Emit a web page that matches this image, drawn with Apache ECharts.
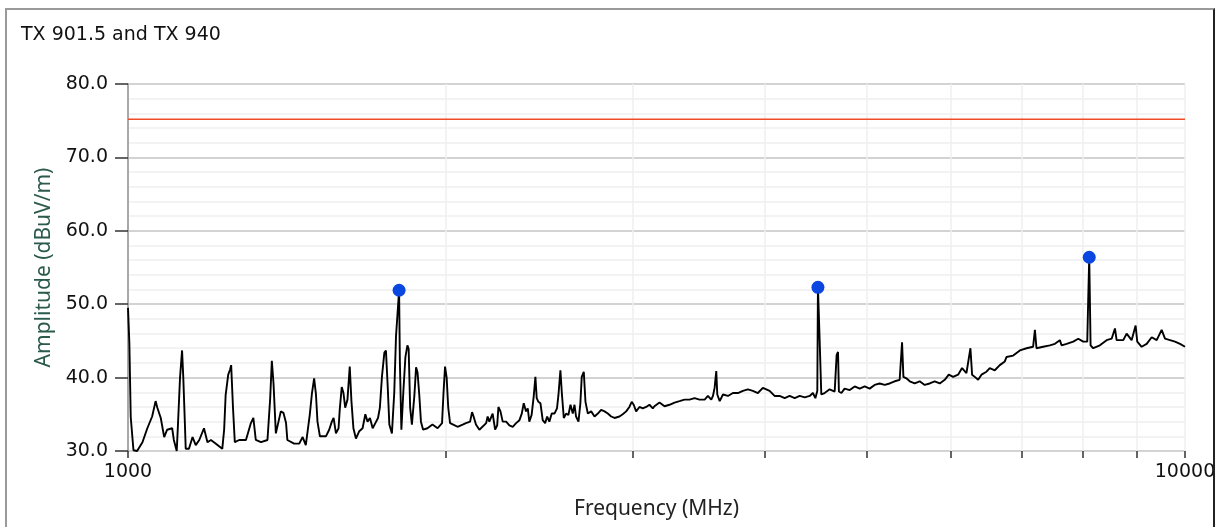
<!DOCTYPE html>
<html>
<head>
<meta charset="utf-8">
<title>TX 901.5 and TX 940</title>
<script src="https://cdn.jsdelivr.net/npm/echarts@6.0.0/dist/echarts.min.js"></script>
<style>
  html, body { margin: 0; padding: 0; background: #fff; overflow: hidden; }
  #chart { position: absolute; left: 0; top: 0; width: 1225px; height: 527px; }
  .frame {
    position: absolute; left: 5px; top: 8px; width: 1206px; height: 540px;
    border: 2px solid #9a9a9a; border-right-color: #222; pointer-events: none;
  }
</style>
</head>
<body>
<div id="chart"></div>
<div class="frame"></div>
<script>
const freqMHz = [
  1000, 1003, 1006, 1012, 1020, 1032, 1043, 1054, 1062, 1066, 1074, 1082, 1089, 1101, 1105, 1112,
  1115, 1120, 1125, 1128, 1132, 1134, 1142, 1151, 1159, 1168, 1180, 1189, 1198, 1211, 1228, 1233,
  1237, 1244, 1249, 1252, 1257, 1262, 1274, 1293, 1307, 1314, 1321, 1336, 1355, 1363, 1368, 1373,
  1380, 1387, 1395, 1403, 1411, 1415, 1436, 1452, 1463, 1473, 1478, 1486, 1493, 1500, 1506, 1511,
  1519, 1539, 1550, 1559, 1565, 1573, 1582, 1586, 1593, 1599, 1605, 1613, 1621, 1627, 1634, 1643,
  1655, 1667, 1677, 1685, 1694, 1704, 1714, 1724, 1731, 1739, 1748, 1754, 1761, 1767, 1777, 1786,
  1793, 1799, 1805, 1808, 1814, 1822, 1830, 1838, 1843, 1849, 1856, 1866, 1873, 1879, 1886, 1893,
  1902, 1920, 1941, 1963, 1982, 1988, 1995, 2002, 2009, 2017, 2031, 2050, 2073, 2088, 2107, 2116,
  2123, 2134, 2150, 2158, 2182, 2189, 2197, 2213, 2225, 2235, 2241, 2251, 2262, 2279, 2295, 2312,
  2329, 2346, 2358, 2368, 2380, 2389, 2397, 2409, 2420, 2429, 2436, 2445, 2456, 2468, 2481, 2492,
  2504, 2517, 2532, 2546, 2554, 2565, 2573, 2584, 2597, 2610, 2622, 2635, 2645, 2654, 2668, 2679,
  2687, 2699, 2709, 2723, 2743, 2763, 2783, 2803, 2824, 2844, 2865, 2886, 2917, 2938, 2960, 2981,
  2996, 3009, 3025, 3047, 3069, 3092, 3114, 3137, 3148, 3183, 3218, 3253, 3289, 3325, 3361, 3398,
  3436, 3473, 3512, 3537, 3563, 3576, 3589, 3602, 3610, 3629, 3655, 3695, 3735, 3776, 3817, 3859,
  3901, 3944, 3987, 4017, 4046, 4090, 4135, 4181, 4226, 4273, 4320, 4368, 4415, 4446, 4470, 4489,
  4495, 4512, 4528, 4561, 4611, 4662, 4682, 4696, 4705, 4731, 4764, 4817, 4870, 4923, 4977, 5031,
  5086, 5142, 5199, 5255, 5313, 5371, 5399, 5415, 5450, 5490, 5550, 5610, 5672, 5734, 5797, 5861,
  5925, 5977, 6034, 6100, 6153, 6212, 6266, 6289, 6326, 6372, 6419, 6489, 6536, 6608, 6680, 6753,
  6778, 6878, 6979, 7081, 7183, 7211, 7236, 7342, 7450, 7532, 7614, 7642, 7727, 7839, 7925, 8012,
  8082, 8098, 8117, 8141, 8188, 8308, 8430, 8523, 8585, 8616, 8742, 8806, 8902, 8980, 9012, 9099,
  9199, 9300, 9402, 9504, 9574, 9678, 9784, 9892, 10000
];
const amplitude = [
  49.5, 44.6, 34.6, 30.1, 30.0, 31.2, 33.1, 34.7, 36.8, 35.9, 34.5, 31.9, 32.9, 33.1, 31.5, 30.0,
  33.6, 40.0, 43.7, 40.0, 33.6, 30.3, 30.3, 31.9, 30.8, 31.5, 33.1, 31.2, 31.5, 31.0, 30.3, 32.9,
  37.6, 40.4, 41.1, 41.7, 35.9, 31.2, 31.5, 31.5, 33.8, 34.5, 31.5, 31.2, 31.5, 37.1, 42.3, 39.2,
  32.4, 33.8, 35.4, 35.2, 33.8, 31.5, 31.0, 31.0, 31.9, 30.8, 32.4, 35.0, 37.9, 39.9, 37.7, 34.0,
  32.0, 32.0, 32.9, 34.0, 34.5, 32.4, 33.1, 35.6, 38.7, 37.9, 35.9, 37.0, 41.5, 36.8, 33.1, 31.7,
  32.7, 33.1, 35.0, 34.0, 34.5, 33.1, 33.8, 34.5, 35.9, 40.2, 43.4, 43.7, 38.6, 33.6, 32.4, 37.9,
  45.7, 45.7, 51.9, 42.3, 32.9, 38.2, 42.8, 44.4, 43.9, 35.9, 33.6, 37.5, 41.4, 40.7, 37.7, 34.0,
  32.9, 33.1, 33.6, 33.1, 33.8, 37.7, 41.5, 40.0, 35.9, 33.8, 33.6, 33.3, 33.6, 33.8, 34.0, 35.3,
  34.7, 33.6, 32.9, 32.9, 33.8, 34.7, 34.0, 35.1, 32.9, 33.5, 36.0, 35.4, 34.0, 34.0, 33.5, 33.3,
  33.8, 34.2, 35.1, 36.5, 35.4, 35.8, 34.0, 34.9, 37.4, 40.1, 37.2, 36.7, 36.5, 34.2, 33.8, 34.7,
  34.0, 35.1, 35.1, 35.8, 37.6, 41.0, 37.9, 34.5, 35.1, 34.9, 36.3, 35.1, 36.3, 34.7, 34.0, 36.5,
  40.1, 40.8, 36.7, 35.1, 35.4, 34.7, 35.1, 35.6, 35.4, 35.1, 34.7, 34.5, 34.7, 35.0, 35.4, 36.0,
  36.7, 36.3, 35.4, 36.0, 35.8, 36.0, 36.3, 35.8, 36.1, 36.6, 36.1, 36.3, 36.6, 36.8, 37.0, 37.0,
  37.2, 37.0, 37.0, 37.5, 37.0, 37.5, 38.6, 40.9, 37.7, 36.8, 37.7, 37.5, 37.9, 37.9, 38.2, 38.4,
  38.2, 37.9, 38.6, 38.4, 38.2, 37.5, 37.5, 37.2, 37.5, 37.2, 37.5, 37.3, 37.5, 37.9, 37.2, 38.2,
  52.3, 45.0, 37.7, 37.9, 38.4, 38.1, 43.1, 43.5, 38.1, 37.9, 38.5, 38.3, 38.8, 38.5, 38.8, 38.5,
  39.0, 39.2, 39.0, 39.2, 39.5, 39.7, 44.8, 40.1, 39.9, 39.5, 39.2, 39.5, 39.0, 39.2, 39.5, 39.2,
  39.7, 40.4, 40.1, 40.4, 41.3, 40.6, 44.0, 40.4, 40.1, 39.7, 40.4, 40.8, 41.3, 41.0, 41.7, 42.2,
  42.8, 43.0, 43.7, 44.0, 44.2, 46.5, 44.0, 44.2, 44.4, 44.6, 45.1, 44.4, 44.6, 44.9, 45.3, 44.9,
  44.9, 50.3, 56.4, 44.4, 44.0, 44.4, 45.1, 45.3, 46.7, 45.1, 45.1, 46.0, 45.1, 47.1, 44.9, 44.2,
  44.6, 45.5, 45.1, 46.5, 45.3, 45.1, 44.9, 44.6, 44.2
];

// peak markers
const peakFreq = [1805, 4495, 8117];
const peakAmp = [51.9, 52.3, 56.4];

// limit line
const limitFreq = [1000, 10000];
const limitAmp = [75.2, 75.2];

// axis ticks
const xLabelValues = [1000, 10000];
const xTickValues = [1000, 2000, 3000, 4000, 5000, 6000, 7000, 8000, 9000, 10000];

const chart = echarts.init(document.getElementById("chart"));

const traceData = freqMHz.map((f, i) => [f, amplitude[i]]);
const peakData = peakFreq.map((f, i) => [f, peakAmp[i]]);
const limitData = limitFreq.map((f, i) => [f, limitAmp[i]]);

const option = {
  animation: false,
  backgroundColor: "#ffffff",
  title: {
    text: "TX 901.5 and TX 940",
    left: 16,
    top: 21,
    textStyle: {
      fontFamily: "DejaVu Sans",
      fontSize: 19,
      fontWeight: "normal",
      color: "#111",
    },
  },
  grid: {
    left: 128,
    right: 40,
    top: 84,
    bottom: 76,
  },
  xAxis: {
    type: "log",
    logBase: 10,
    min: 1000,
    max: 10000,
    name: "Frequency (MHz)",
    nameLocation: "middle",
    nameGap: 48,
    nameTextStyle: {
      fontFamily: "Noto Sans",
      fontSize: 21,
      color: "#222",
    },
    axisLine: { show: false },
    axisTick: {
      show: true,
      customValues: xTickValues,
      length: 7,
      lineStyle: { color: "#333", width: 1.5 },
    },
    axisLabel: {
      customValues: xLabelValues,
      formatter: (v) => String(Math.round(v)),
      margin: 12,
      fontFamily: "DejaVu Sans",
      fontSize: 19,
      color: "#111",
    },
    splitLine: {
      show: true,
      lineStyle: { color: "#efefef", width: 1.5 },
    },
  },
  yAxis: {
    type: "value",
    min: 30,
    max: 80,
    interval: 10,
    name: "Amplitude (dBuV/m)",
    nameLocation: "middle",
    nameRotate: 90,
    nameGap: 69,
    nameTextStyle: {
      fontFamily: "Noto Sans",
      fontSize: 21,
      color: "#2b5a4c",
    },
    axisLine: {
      show: true,
      lineStyle: { color: "#a8a8a8", width: 2 },
    },
    axisTick: {
      show: true,
      length: 13,
      lineStyle: { color: "#333", width: 1.5 },
    },
    axisLabel: {
      formatter: (v) => v.toFixed(1),
      margin: 20,
      fontFamily: "DejaVu Sans",
      fontSize: 19,
      color: "#111",
    },
    splitLine: {
      lineStyle: { color: "#c4c4c4", width: 1.5 },
    },
    minorTick: { show: false, splitNumber: 5 },
    minorSplitLine: {
      show: true,
      lineStyle: { color: "#f0f0f0", width: 1.5 },
    },
  },
  series: [
    {
      name: "Limit",
      type: "line",
      data: limitData,
      symbol: "none",
      lineStyle: { color: "#f04a28", width: 1.6 },
      z: 2,
    },
    {
      name: "TX 901.5 and TX 940",
      type: "line",
      data: traceData,
      symbol: "none",
      lineStyle: { color: "#000", width: 1.9 },
      z: 3,
    },
    {
      name: "Peaks",
      type: "scatter",
      data: peakData,
      symbol: "circle",
      symbolSize: 13,
      itemStyle: { color: "#0a46e0", opacity: 1 },
      z: 4,
    },
  ],
};

chart.setOption(option);
</script>
</body>
</html>
